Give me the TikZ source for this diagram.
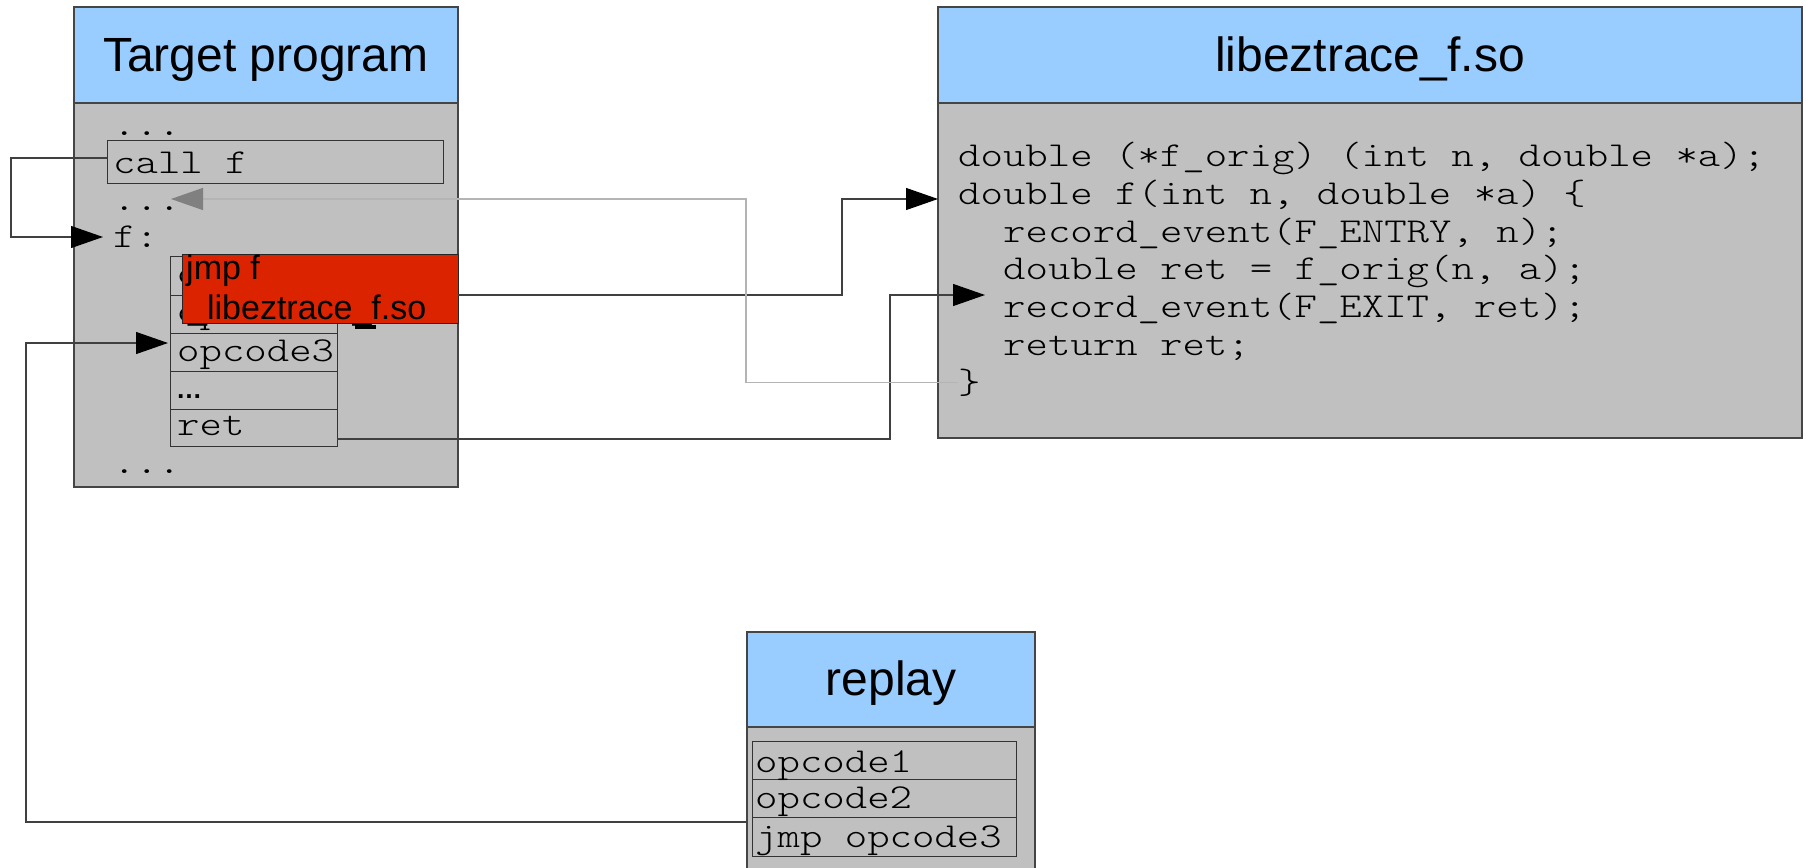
\documentclass[tikz,border=0pt]{standalone}
\usepackage{fontspec}
\setmainfont{Liberation Sans}
\newfontfamily\codefont{lmmonolt10-regular.otf}[FakeStretch=1.22]
\usetikzlibrary{arrows.meta,calc}
\definecolor{hdrblue}{HTML}{99CCFF}
\definecolor{bodygray}{HTML}{C0C0C0}
\definecolor{redfill}{HTML}{DC2300}
\definecolor{edge}{HTML}{454545}
\definecolor{retgray}{HTML}{B4B4B4}
\definecolor{retheadgray}{HTML}{808080}
\begin{document}
\begin{tikzpicture}[x=1pt,y=-1pt,
  panel/.style={draw=edge, line width=1.2pt, anchor=north west, inner sep=0pt, outer sep=0pt},
  hdr/.style={panel, fill=hdrblue},
  bodybox/.style={panel, fill=bodygray},
  cell/.style={draw=black!80, line width=1pt, fill=bodygray, anchor=north west, inner sep=0pt, outer sep=0pt},
  title/.style={font=\fontsize{48}{57}\selectfont, anchor=base, inner sep=0pt},
  code/.style={font=\codefont\fontsize{35}{40}\selectfont, anchor=base west, inner sep=0pt},
  redtxt/.style={font=\fontsize{34}{40}\selectfont, anchor=base west, inner sep=0pt},
  conn/.style={draw=black!75, line width=1.2pt, -{Triangle[length=32pt,width=22pt,black]}},
  back/.style={draw=retgray, line width=1.2pt, -{Triangle[length=32pt,width=22pt,retheadgray]}}]
\useasboundingbox (0,0) rectangle (1806,867);
\begin{scope}
\clip (0,0) rectangle (1806,867);

% ---------- Target program ----------
\node[hdr, minimum width=384pt, minimum height=96pt] (tph) at (74,7) {};
\node[bodybox, minimum width=384pt, minimum height=384pt] (tpb) at (74,103) {};
\node[title] (tpt) at (266,71) {Target program};
\node[code] (d1) at (113,135) {...};
\node[cell, minimum width=336pt, minimum height=43pt] (callf) at (107,140) {};
\node[code] (callft) at (113,173) {call f};
\node[code] (d2) at (113,210) {...};
\node[code] (fcol) at (113,247) {f:};
\node[cell, minimum width=167pt, minimum height=39pt] (op1) at (170,256) {};
\node[cell, minimum width=167pt, minimum height=38pt] (op2) at (170,295) {};
\node[cell, minimum width=167pt, minimum height=38pt] (op3) at (170,333) {};
\node[cell, minimum width=167pt, minimum height=38pt] (op4) at (170,371) {};
\node[cell, minimum width=167pt, minimum height=37pt] (ret) at (170,409) {};
\node[code] (op1t) at (177,284) {opcode1};
\node[code] (op2t) at (177,322) {opcode2};
\node[code] (op3t) at (177,361) {opcode3};
\node[font=\bfseries\fontsize{26}{30}\selectfont, anchor=base west, inner sep=0pt] (op4t) at (176,398) {…};
\node[code] (rett) at (177,435) {ret};
\node[code] (d3) at (113,473) {...};
\fill[black] (355,325) rectangle (376,329);
\node[draw=black!85, line width=1pt, fill=redfill, anchor=north west, inner sep=0pt, outer sep=0pt,
      minimum width=276pt, minimum height=69pt] (jmp) at (182,254) {};
\node[redtxt] (jmpt1) at (186,279) {jmp f};
\node[redtxt] (jmpt2) at (188,319) {\_libeztrace\_f.so};

% ---------- libeztrace_f.so ----------
\node[hdr, minimum width=864pt, minimum height=96pt] (libh) at (938,7) {};
\node[bodybox, minimum width=864pt, minimum height=335pt] (libb) at (938,103) {};
\node[title] (libt) at (1370,71) {libeztrace\_f.so};
\node[code] (l1) at (958,166.5) {double (*f\_orig) (int n, double *a);};
\node[code] (l2) at (958,204.3) {double f(int n, double *a) \{};
\node[code] (l3) at (1003,242.1) {record\_event(F\_ENTRY, n);};
\node[code] (l4) at (1003,279.9) {double ret = f\_orig(n, a);};
\node[code] (l5) at (1003,317.7) {record\_event(F\_EXIT, ret);};
\node[code] (l6) at (1003,355.5) {return ret;};
\node[code] (rbrace) at (958,393.3) {\}};

% ---------- replay ----------
\node[hdr, minimum width=288pt, minimum height=95pt] (reph) at (747,632) {};
\node[bodybox, minimum width=288pt, minimum height=260pt] (repb) at (747,727) {};
\node[title] (rept) at (891,695) {replay};
\node[cell, minimum width=264pt, minimum height=38pt] (r1) at (752,741) {};
\node[cell, minimum width=264pt, minimum height=38pt] (r2) at (752,779) {};
\node[cell, minimum width=264pt, minimum height=39pt] (r3) at (752,817) {};
\node[code] (r1t) at (755,772) {opcode1};
\node[code] (r2t) at (755,808) {opcode2};
\node[code] (r3t) at (755,847) {jmp opcode3};

% ---------- connectors ----------
\coordinate (fentry) at (938,199);
\coordinate (fexit) at (985,295);
\coordinate (retpt) at (171,199);
\coordinate (op3in) at (168,343);
\coordinate (fin) at (103,237);

\draw[conn] ($(callf.west)+(0,-3.5)$) -- ++(-96,0) |- (fin);
\draw[conn] ($(jmp.east)+(0,6.5)$) -- ++(384,0) |- (fentry);
\draw[conn] ($(ret.east)+(0,11.5)$) -| ($(fexit)+(-95,0)$) -- (fexit);
\draw[back] (rbrace.west) -- ++(-212,0) |- (retpt);
\draw[conn] ($(r3.west)+(-5,-14.5)$) -- ++(-721,0) |- (op3in);
\end{scope}
\end{tikzpicture}
\end{document}
